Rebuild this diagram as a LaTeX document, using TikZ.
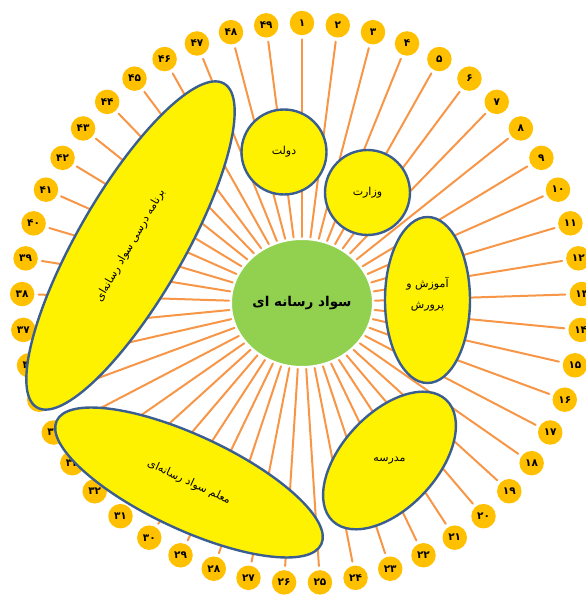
\documentclass[tikz,border=0pt]{standalone}
\usepackage{fontspec}
\usetikzlibrary{shapes.geometric}
\newfontfamily\fafont[Script=Arabic]{DejaVu Sans}
\newfontfamily\numfont{DejaVu Sans}
\TeXXeTstate=1
\definecolor{spokeorange}{HTML}{F79646}
\definecolor{dotgold}{HTML}{FFC000}
\definecolor{leafgreen}{HTML}{92D050}
\definecolor{rimblue}{HTML}{3B5E91}
\newcommand\fadig[1]{\ifcase\numexpr#1\relax ۰\or ۱\or ۲\or ۳\or ۴\or ۵\or ۶\or ۷\or ۸\or ۹\fi}
\newcommand\fanum[1]{\ifnum#1<10 \fadig{#1}\else\fadig{(#1-5)/10}\fadig{#1-10*((#1-5)/10)}\fi}
\tikzset{
  dot/.style={circle,fill=dotgold,minimum size=24.5pt,inner sep=0pt,font=\numfont\bfseries\fontsize{10.5}{10.5}\selectfont},
  spoke/.style={spokeorange,line width=2pt,shorten <=2pt,shorten >=4pt},
  bubble/.style={ellipse,draw=rimblue,line width=2.4pt,fill=yellow,inner sep=0pt,align=center,font=\fafont\fontsize{11}{21}\selectfont}
}
\begin{document}
\begin{tikzpicture}[x=1pt,y=1pt,line cap=round,line join=round]
\useasboundingbox (-302,-292) rectangle (284,303);
\node[ellipse,fill=leafgreen,draw=white,line width=1pt,inner sep=0pt,minimum width=141pt,minimum height=127pt,font=\fafont\bfseries\fontsize{13.5}{13.5}\selectfont] (media) at (0,0) {\beginR سواد رسانه ای\endR};
\foreach \k in {1,...,49}
  \node[dot] (p\k) at ({90-(\k-1)/49*360}:280) {\fanum{\k}};
\foreach \k in {1,...,49}
  \draw[spoke] (media) -- (p\k);
\node[bubble,circle,minimum size=85pt] (dolat) at (-18,151) {\beginR دولت\endR};
\node[bubble,circle,minimum size=85pt] (vezarat) at (65.5,110.5) {\beginR وزارت\endR};
\node[bubble,minimum width=85pt,minimum height=166pt] (amoozesh) at (125.5,3) {};
\node[align=center,font=\fafont\fontsize{11}{21}\selectfont] at ([yshift=6pt]amoozesh) {\beginR آموزش و\endR\\\beginR پرورش\endR};
\node[bubble,minimum width=166pt,minimum height=95pt,rotate=47] (madrese) at (87.5,-157.5) {};
\node at (madrese) [font=\fafont\fontsize{11}{11}\selectfont] {\beginR مدرسه\endR};
\node[bubble,minimum width=374pt,minimum height=106pt,rotate=60] (barname) at (-171.5,57.5) {\beginR برنامه درسی سواد رسانه‌ای\endR};
\node[bubble,minimum width=292pt,minimum height=94pt,rotate=-25] (moalem) at (-113,-179.5) {\beginR معلم سواد رسانه‌ای\endR};
\end{tikzpicture}
\end{document}
